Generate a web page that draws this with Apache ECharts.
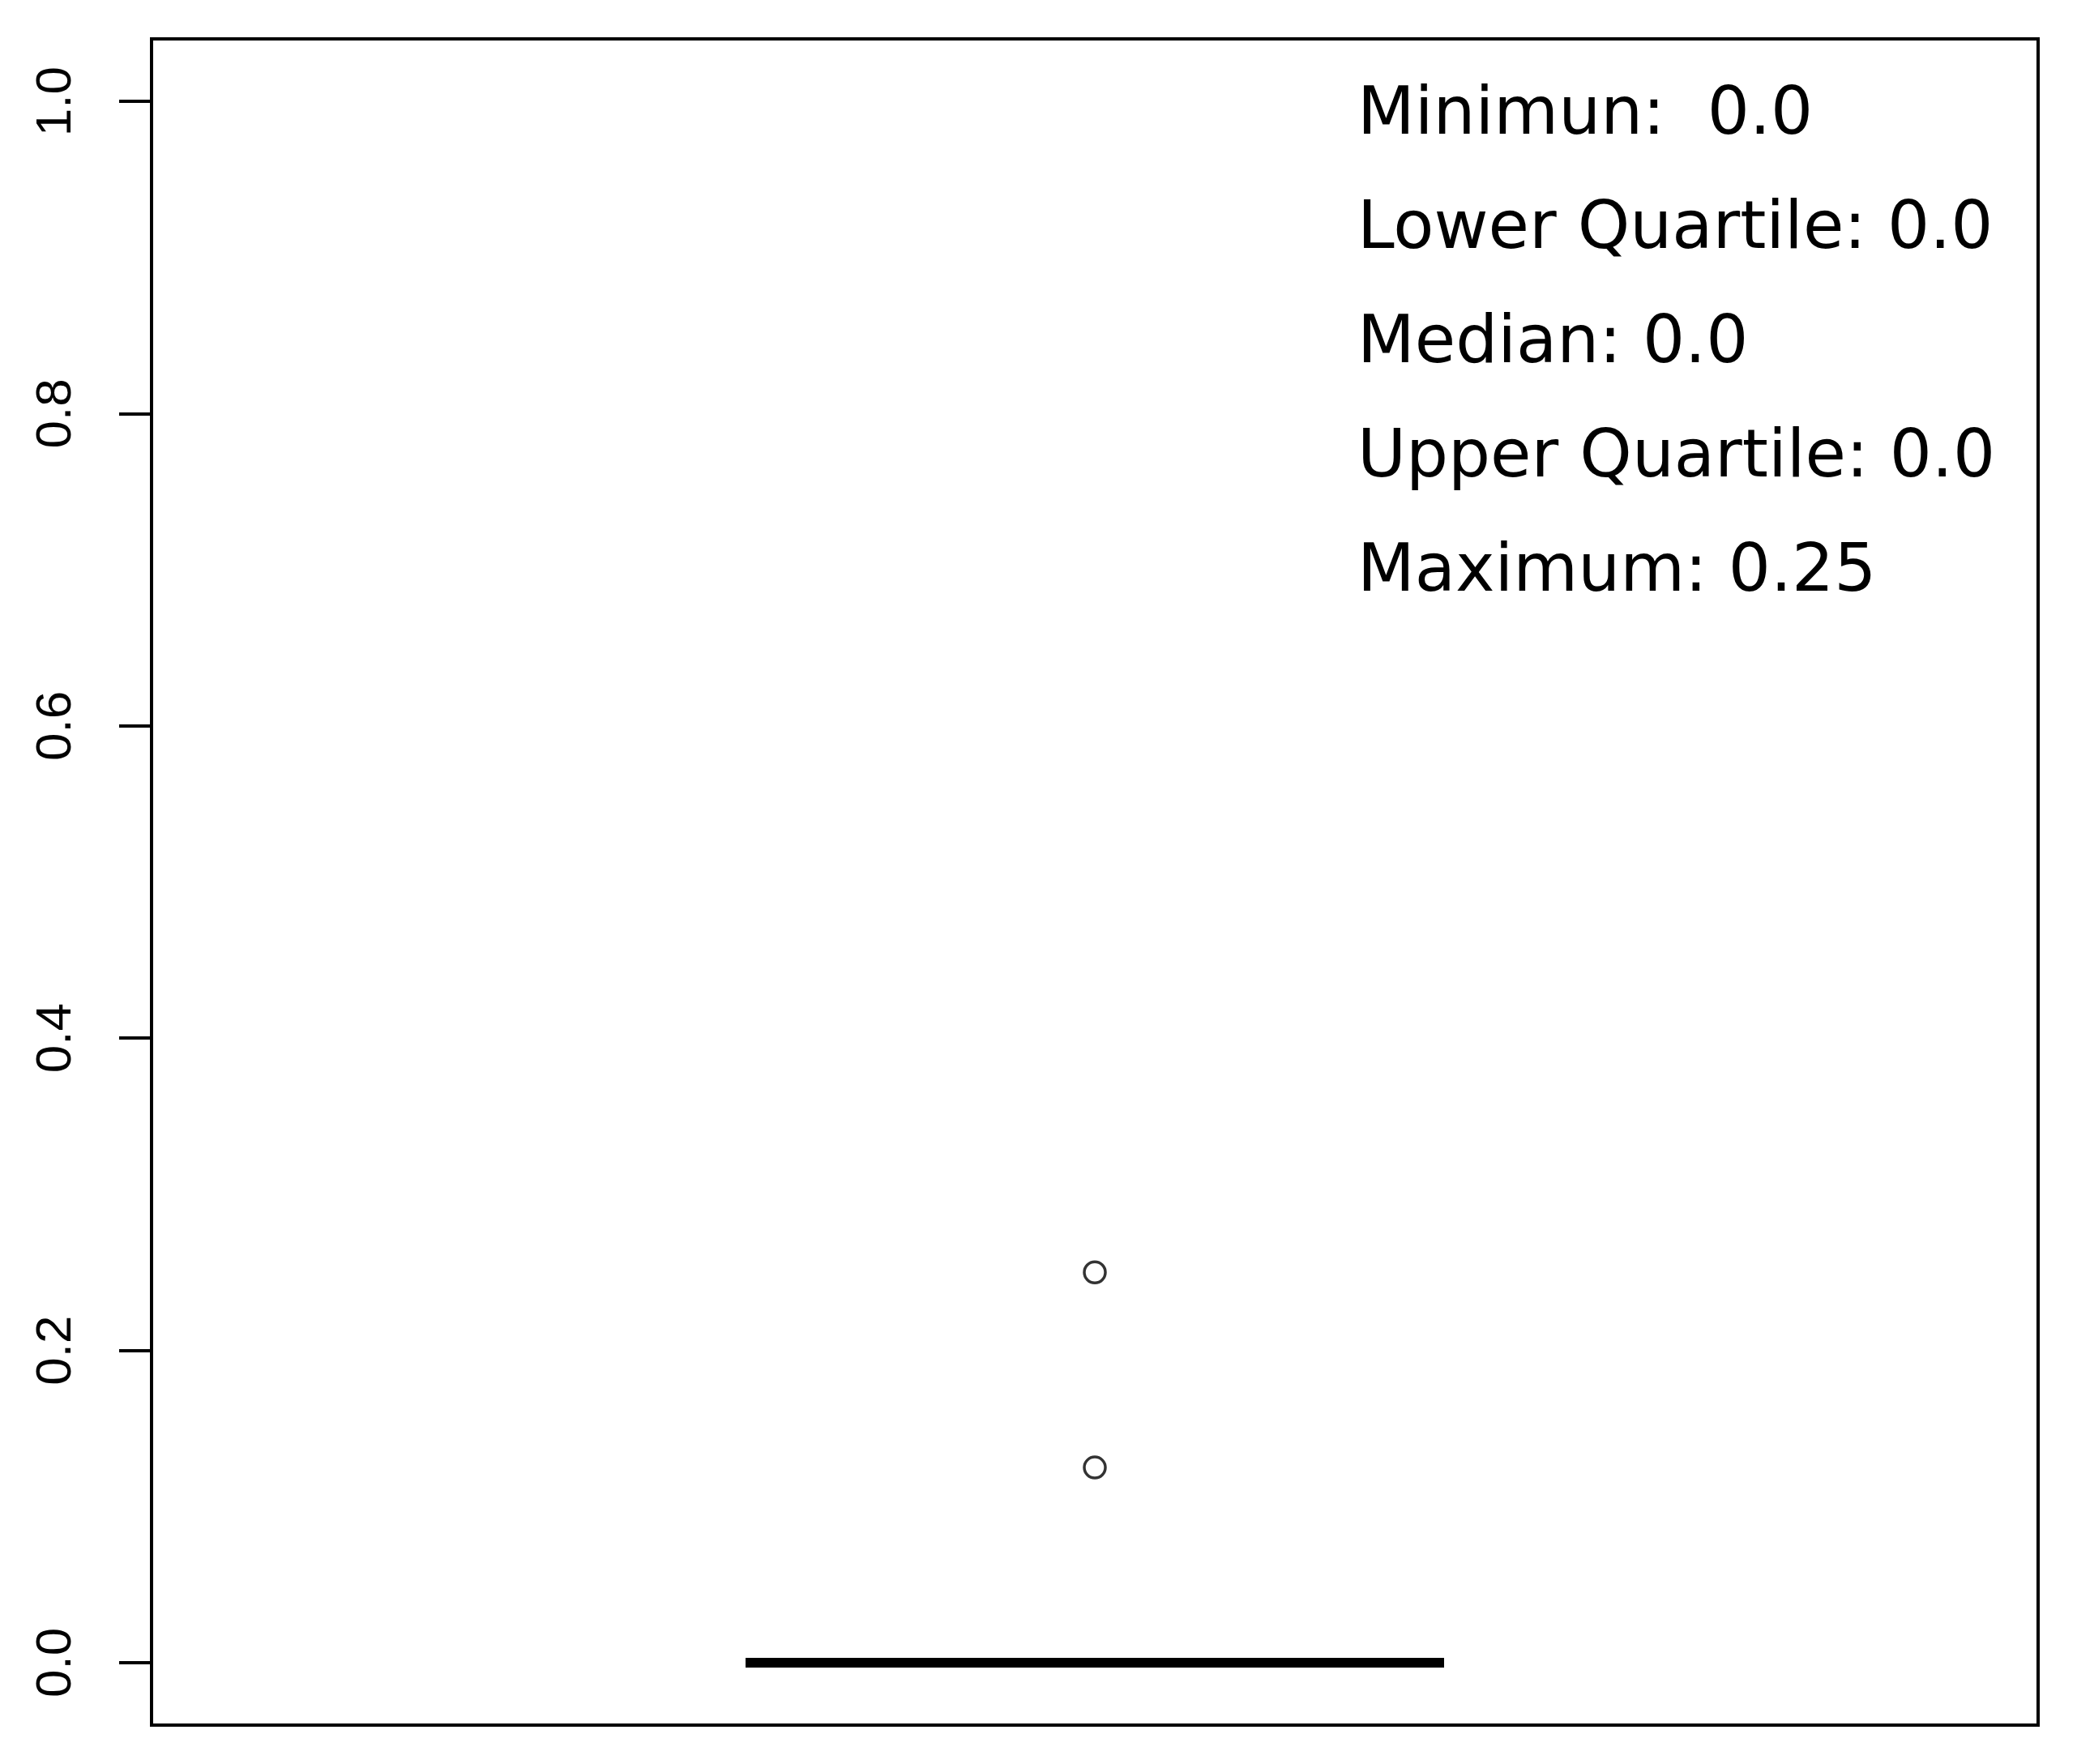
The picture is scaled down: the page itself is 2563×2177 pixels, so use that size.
<!DOCTYPE html>
<html>
<head>
<meta charset="utf-8">
<script src="https://cdn.jsdelivr.net/npm/echarts@6/dist/echarts.min.js"></script>
<style>
html, body { margin: 0; padding: 0; background: #fff; }
#chart { width: 2563px; height: 2177px; }
</style>
</head>
<body>
<div id="chart"></div>
<script>
// data
const yTicks = [0, 0.2, 0.4, 0.6, 0.8, 1.0];
const boxStats = [0.0, 0.0, 0.0, 0.0, 0.0]; // low whisker, q1, median, q3, high whisker
const outliers = [0.25, 0.125];
const statNames = ['Minimun:  ', 'Lower Quartile: ', 'Median: ', 'Upper Quartile: ', 'Maximum: '];
const statValues = ['0.0', '0.0', '0.0', '0.0', '0.25'];

const myChart = echarts.init(document.getElementById('chart'));

const statText = statNames.map((name, i) => ({
  type: 'text',
  x: 1675,
  y: 144 + i * 141,
  silent: true,
  style: {
    text: name + statValues[i],
    font: '82px "DejaVu Sans"',
    fill: '#000',
    textAlign: 'left',
    textVerticalAlign: 'middle',
    align: 'left',
    verticalAlign: 'middle'
  }
}));

const option = {
  animation: false,
  backgroundColor: '#fff',
  grid: {
    left: 187,
    right: 48,
    top: 48,
    bottom: 48,
    show: true,
    borderColor: '#000',
    borderWidth: 4,
    backgroundColor: 'transparent'
  },
  xAxis: {
    type: 'category',
    data: ['x'],
    axisLine: { show: false },
    axisTick: { show: false },
    axisLabel: { show: false },
    splitLine: { show: false }
  },
  yAxis: {
    type: 'value',
    min: -0.04,
    max: 1.04,
    axisLine: { show: false },
    splitLine: { show: false },
    axisTick: {
      show: true,
      length: 40,
      customValues: yTicks,
      lineStyle: { color: '#000', width: 4 }
    },
    axisLabel: {
      show: true,
      rotate: 90,
      margin: 86,
      customValues: yTicks,
      color: '#000',
      fontFamily: '"Liberation Sans"',
      fontSize: 62,
      formatter: v => v.toFixed(1)
    }
  },
  series: [
    {
      type: 'boxplot',
      data: [boxStats],
      boxWidth: [862, 862],
      silent: true,
      itemStyle: { color: '#fff', borderColor: '#000', borderWidth: 12 }
    },
    {
      type: 'scatter',
      data: outliers.map(v => [0, v]),
      symbol: 'circle',
      symbolSize: 26,
      silent: true,
      itemStyle: { color: 'rgba(0,0,0,0)', borderColor: '#000', borderWidth: 3.5 }
    }
  ],
  graphic: statText
};

myChart.setOption(option);
</script>
</body>
</html>
